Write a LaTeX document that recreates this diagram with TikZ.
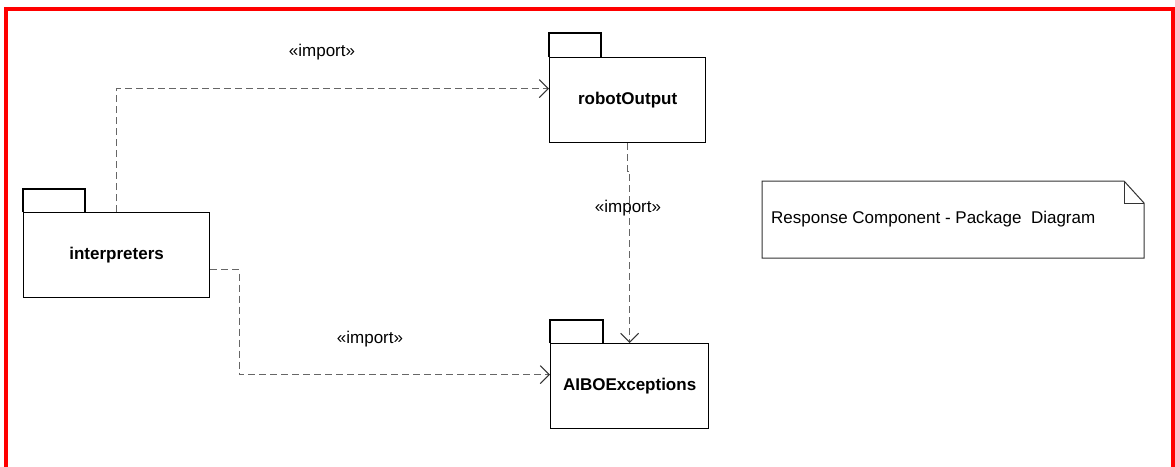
\documentclass[tikz,border=0pt]{standalone}
\usepackage{fontspec}
\setmainfont{Liberation Sans}
\usetikzlibrary{arrows.meta,calc}
\begin{document}
\begin{tikzpicture}[x=1pt,y=-1pt,
  pkgbody/.style={draw=black,line width=1.2pt,fill=white,minimum width=#1,
    minimum height=85pt,inner sep=0pt,font=\fontsize{17}{20}\selectfont\bfseries},
  pkgtab/.style={draw=black,line width=1.2pt},
  dep/.style={draw=black!60,line width=1pt,dash pattern=on 7pt off 4pt,
    -{Straight Barb[length=9pt,width=18pt,line width=1pt,color=black!80]}},
  stereo/.style={font=\fontsize{17}{20}\selectfont,inner sep=0pt},
  notebox/.style={draw=black!80,line width=1pt,fill=white}]
\useasboundingbox (0,0) rectangle (1175,466);
% frame around the diagram (open at the bottom)
\draw[red,line width=4pt] (6,468) -- (6,9) -- (1173,9) -- (1173,468);

% packages
\node[pkgbody=186pt,anchor=north west] (interp) at (23,212) {interpreters};
\node[pkgbody=156pt,anchor=north west] (robot) at (549,57) {robotOutput};
\node[pkgbody=158pt,anchor=north west] (aibo) at (550,343) {AIBOExceptions};
\draw[pkgtab] (interp.north west) -- ++(0,-23) -- ++(62,0) -- ++(0,23);
\draw[pkgtab] (robot.north west) -- ++(0,-24) -- ++(52,0) -- ++(0,24);
\draw[pkgtab] (aibo.north west) -- ++(0,-23) -- ++(53,0) -- ++(0,23);

% import dependencies
\draw[dep] (interp.north) |- ([yshift=11.5pt]robot.west);
\draw[dep] ([yshift=-14.5pt]interp.east) -- ++(29,0) |- ([yshift=11.5pt]aibo.west);
\draw[dep] (robot.south) -- ++(0,28) -| (aibo.north);
\node[stereo] (l1) at (322,52) {«import»};
\node[stereo] (l2) at (370,339) {«import»};
\node[stereo] (l3) at (628,208) {«import»};

% note
\draw[notebox] (762,181) -- (1124,181) -- (1144,203) -- (1144,258) -- (762,258) -- cycle;
\draw[black!80,line width=1pt] (1124,181) -- (1124,203) -- (1144,203);
\node[anchor=west,font=\fontsize{17}{20}\selectfont,inner sep=0pt] (note) at (771,219)
  {Response Component - Package\ \ Diagram};
\end{tikzpicture}
\end{document}
